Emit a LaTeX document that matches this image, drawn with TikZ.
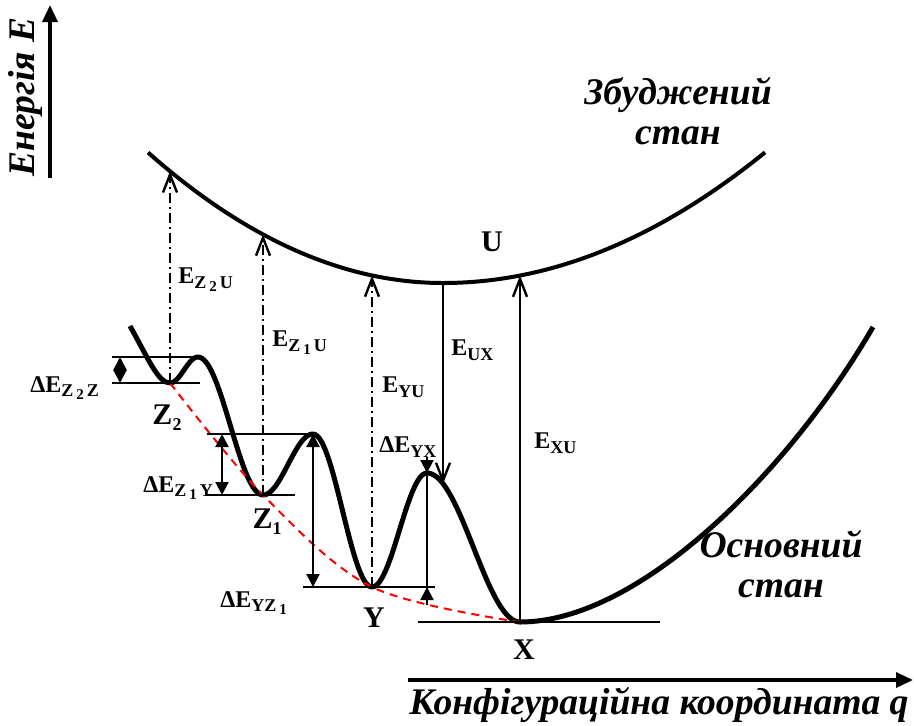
\documentclass[tikz,border=0pt]{standalone}
\usepackage{fontspec}
\setmainfont{Liberation Serif}
\usetikzlibrary{arrows.meta}
\newcommand{\lsub}[1]{\raisebox{-0.45ex}{\fontsize{9}{9}\selectfont #1}}
\newcommand{\lsubsub}[1]{\hspace{1.5pt}\raisebox{-0.35ex}{\fontsize{7.5}{7.5}\selectfont #1}\hspace{1.5pt}}
\begin{document}
\begin{tikzpicture}[x=0.5pt, y=-0.5pt,
  gnd/.style={line width=2.5pt, line join=round},
  exc/.style={line width=2pt},
  lvl/.style={line width=1pt},
  dim/.style={line width=1pt, {Triangle[length=6.5pt,width=6.5pt]}-{Triangle[length=6.5pt,width=6.5pt]}},
  tip/.style={line width=1pt, -{Triangle[length=6.5pt,width=6.5pt]}},
  jump/.style={line width=1.2pt, -{Straight Barb[length=9pt,width=7pt]}},
  virt/.style={jump, dash pattern=on 5pt off 2pt on 1pt off 2pt},
  trend/.style={red, line width=1pt, dash pattern=on 4pt off 3pt},
  ax/.style={line width=1.75pt, -{Triangle[length=8.5pt,width=7.5pt]}},
  elbl/.style={font=\fontsize{12}{12}\selectfont\bfseries, anchor=west, inner sep=0pt},
  lett/.style={font=\fontsize{15}{15}\selectfont\bfseries, inner sep=0pt},
  ttl/.style={font=\fontsize{18.8}{20}\selectfont\bfseries\itshape, align=center, inner sep=0pt},
]
\useasboundingbox (0,0) rectangle (914,725);

%% axes
\draw[ax] (50,178) -- (50,5);
\node[ttl, rotate=90] (ey) at (25,97) {Енергія E};
\draw[ax] (408,680) -- (913,680);
\node[ttl] (qx) at (659,705) {Конфігураційна координата q};

%% key points
\coordinate (z2) at (170,383);  \coordinate (z2b) at (198,357);
\coordinate (z1) at (263,495);  \coordinate (z1b) at (313,434);
\coordinate (y)  at (372,587);  \coordinate (yb)  at (427,473);
\coordinate (x)  at (520,622);  \coordinate (u)   at (443,283);
\coordinate (uz2) at (170,171.2); \coordinate (uz1) at (263,234.4);
\coordinate (uy)  at (372,275.4); \coordinate (ux)  at (520,275.5);
\coordinate (gux) at (443,484);

%% excited state
\draw[exc] plot[domain=148:443, samples=60] (\x, {283-15*((\x-443)/100)^2})
  -- plot[domain=443:765, samples=60] (\x, {283-12.6*((\x-443)/100)^2});

%% ground state
\draw[gnd] (130,326) .. controls (148,358) and (158,383) .. (z2)
  -- plot[domain=170:198, samples=20] (\x, {383+(357-383)*(1-cos((\x-170)/28*180))/2})
  -- plot[domain=198:263, samples=30] (\x, {357+(495-357)*(1-cos((\x-198)/65*180))/2})
  -- plot[domain=263:313, samples=30] (\x, {495+(434-495)*(1-cos((\x-263)/50*180))/2})
  -- plot[domain=313:372, samples=30] (\x, {434+(587-434)*(1-cos((\x-313)/59*180))/2})
  -- plot[domain=372:427, samples=30] (\x, {587+(473-587)*(1-cos((\x-372)/55*180))/2})
  -- plot[domain=427:520, samples=40] (\x, {473+(622-473)*(1-cos((\x-427)/93*180))/2})
  .. controls (640,622) and (790,470) .. (873,327);

%% trend through the minima
\draw[trend] plot[smooth, tension=0.55] coordinates {(z2) (z1) (y) (x)};

%% levels
\draw[lvl] (112,357) -- (z2b);
\draw[lvl] (112,383) -- (200,383);
\draw[lvl] (207,434) -- (z1b);
\draw[lvl] (207,495) -- (295,495);
\draw[lvl] (303,587) -- (435,587);
\draw[lvl] (418,622) -- (660,622);

%% barriers
\draw[dim] (120,357) -- (120,383);
\draw[dim] (222,434) -- (222,495);
\draw[dim] (z1b) -- (z1b |- y);
\draw[tip] (427,457) -- (yb);
\draw[lvl] (yb) -- (427,605);
\draw[tip] (427,605) -- (yb |- y);

%% transitions
\draw[virt] (z2) -- (uz2);
\draw[virt] (z1) -- (uz1);
\draw[virt] (y) -- (uy);
\draw[jump] (u) -- (gux);
\draw[jump] (x) -- (ux);

%% labels
\node[elbl] (lz2u) at (178,280) {E\lsub{Z\lsubsub{2}U}};
\node[elbl] (lz1u) at (272,343) {E\lsub{Z\lsubsub{1}U}};
\node[elbl] (lyu)  at (382,387) {E\lsub{YU}};
\node[elbl] (lux)  at (451,350) {E\lsub{UX}};
\node[elbl] (lxu)  at (534,443) {E\lsub{XU}};
\node[elbl] (dyx)  at (379,447) {ΔE\lsub{YX}};
\node[elbl] (dz2)  at (30,388)  {ΔE\lsub{Z\lsubsub{2}Z}};
\node[elbl] (dz1)  at (143,488) {ΔE\lsub{Z\lsubsub{1}Y}};
\node[elbl] (dyz)  at (220,603) {ΔE\lsub{YZ\lsubsub{1}}};

\node[lett] (tu)  at (492,242) {U};
\node[lett] (tz2) at (167,418) {Z\lsub{2}};
\node[lett] (tz1) at (267,522) {Z\lsub{1}};
\node[lett] (ty)  at (374,618) {Y};
\node[lett] (tx)  at (524,650) {X};

\node[ttl] (exc) at (678,111) {Збуджений\\стан};
\node[ttl] (gnd) at (781,564) {Основний\\стан};
\end{tikzpicture}
\end{document}
